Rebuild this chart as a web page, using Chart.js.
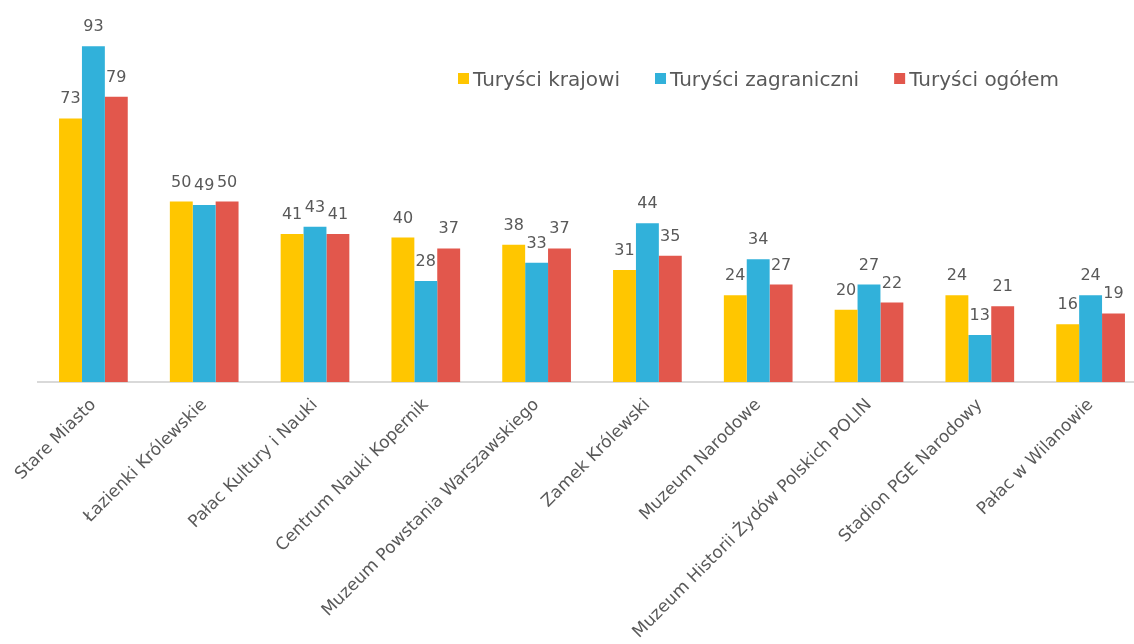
<!DOCTYPE html>
<html>
<head>
<meta charset="utf-8">
<script src="https://cdn.jsdelivr.net/npm/chart.js@4"></script>
<style>
  html, body { margin: 0; padding: 0; background: #fff; overflow: hidden; }
  #wrap { width: 1134px; height: 644px; overflow: hidden; }
</style>
</head>
<body>
<div id="wrap"><canvas id="touristChart" width="1150" height="644"></canvas></div>
<script>
// Najczęściej odwiedzane miejsca w Warszawie (%)
const places = [
    'Stare Miasto', 'Łazienki Królewskie', 'Pałac Kultury i Nauki',
    'Centrum Nauki Kopernik', 'Muzeum Powstania Warszawskiego', 'Zamek Królewski',
    'Muzeum Narodowe', 'Muzeum Historii Żydów Polskich POLIN',
    'Stadion PGE Narodowy', 'Pałac w Wilanowie'
];
const domestic = [73, 50, 41, 40, 38, 31, 24, 20, 24, 16];
const foreign = [93, 49, 43, 28, 33, 44, 34, 27, 13, 24];
const total = [79, 50, 41, 37, 37, 35, 27, 22, 21, 19];

const seriesNames = ['Turyści krajowi', 'Turyści zagraniczni', 'Turyści ogółem'];
const seriesColors = ['#FFC600', '#31B1DA', '#E2574C'];

const fontFamily = '"DejaVu Sans", sans-serif';
const textColor = '#595959';

// labels above each bar
const valueLabels = {
    id: 'valueLabels',
    afterDatasetsDraw(chart) {
        const ctx = chart.ctx;
        ctx.save();
        ctx.font = '16px ' + fontFamily;
        ctx.fillStyle = textColor;
        ctx.textAlign = 'center';
        ctx.textBaseline = 'alphabetic';
        chart.data.datasets.forEach((ds, i) => {
            chart.getDatasetMeta(i).data.forEach((bar, j) => {
                ctx.fillText(ds.data[j], bar.x, bar.y - 15);
            });
        });
        ctx.restore();
    }
};

// legend in the upper right, drawn by hand
const topLegend = {
    id: 'topLegend',
    afterDraw(chart) {
        const ctx = chart.ctx;
        ctx.save();
        ctx.font = '20px ' + fontFamily;
        ctx.textBaseline = 'alphabetic';
        let x = 458;
        chart.data.datasets.forEach(ds => {
            ctx.fillStyle = ds.backgroundColor;
            ctx.fillRect(x, 73, 11, 11);
            ctx.fillStyle = textColor;
            ctx.fillText(ds.label, x + 15, 86);
            x += 15 + ctx.measureText(ds.label).width + 35;
        });
        ctx.restore();
    }
};

new Chart(document.getElementById('touristChart'), {
    type: 'bar',
    data: {
        labels: places,
        datasets: [domestic, foreign, total].map((values, i) => ({
            label: seriesNames[i],
            data: values,
            backgroundColor: seriesColors[i],
            barPercentage: 1,
            categoryPercentage: 0.62
        }))
    },
    options: {
        responsive: false,
        animation: false,
        devicePixelRatio: 1,
        layout: { padding: { left: 38, right: 4, top: 21, bottom: 0 } },
        plugins: {
            legend: { display: false },
            tooltip: { enabled: false }
        },
        scales: {
            x: {
                grid: { display: false },
                border: { color: '#D9D9D9', width: 2 },
                ticks: {
                    color: textColor,
                    font: { family: fontFamily, size: 17 },
                    minRotation: 45,
                    maxRotation: 45,
                    autoSkip: false,
                    padding: 5
                },
                afterFit(scale) {
                    scale.height = 262;
                    scale.paddingLeft = 0;
                    scale.paddingRight = 0;
                }
            },
            y: {
                display: false,
                min: 0,
                max: 100
            }
        }
    },
    plugins: [valueLabels, topLegend]
});
</script>
</body>
</html>
